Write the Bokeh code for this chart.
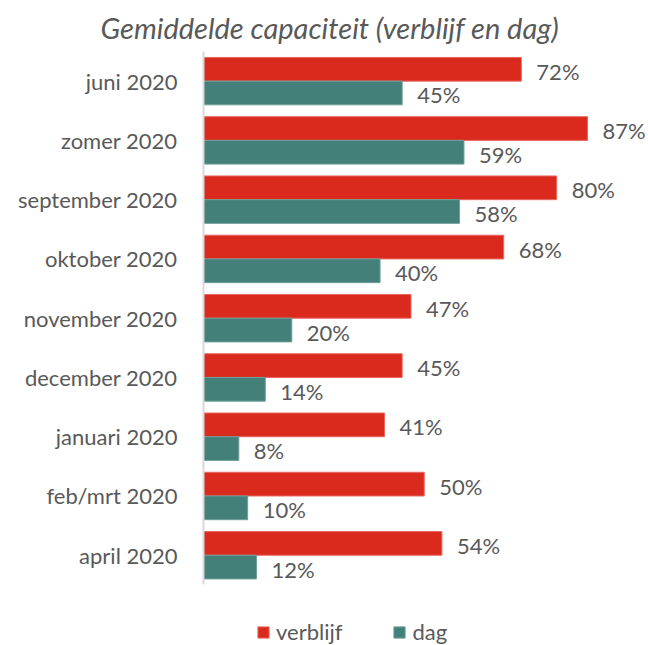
from bokeh.plotting import figure
from bokeh.models import Range1d, Legend, LegendItem, ColumnDataSource, FixedTicker
from bokeh.transform import dodge
from bokeh.core.properties import value
from bokeh.embed import file_html
from bokeh.resources import INLINE

categories = ["juni 2020", "zomer 2020", "september 2020", "oktober 2020",
              "november 2020", "december 2020", "januari 2020", "feb/mrt 2020", "april 2020"]
verblijf = [72, 87, 80, 68, 47, 45, 41, 50, 54]
dag = [45, 59, 58, 40, 20, 14, 8, 10, 12]
series_names = ["verblijf", "dag"]
title_text = "Gemiddelde capaciteit (verblijf en dag)"

RED = "#DA2A1E"
TEAL = "#43807A"
TXT = "#595959"
FONT = "Lato"

n = len(categories)
pos = [n - 1 - i for i in range(n)]  # top-to-bottom order

src = ColumnDataSource(dict(
    pos=pos,
    cat=categories,
    verblijf=verblijf,
    dag=dag,
    vlab=[f"{v}%" for v in verblijf],
    dlab=[f"{v}%" for v in dag],
))

p = figure(width=648, height=645, output_backend="svg", toolbar_location=None,
           y_range=Range1d(-1.523, n - 0.5),
           x_range=Range1d(0, 100.8),
           min_border_left=203, min_border_right=0, min_border_top=51, min_border_bottom=0)

r1 = p.hbar(y=dodge("pos", 0.2), right="verblijf", left=0, height=0.4,
            source=src, fill_color=RED, line_color="#E8685F", line_width=1)
r2 = p.hbar(y=dodge("pos", -0.2), right="dag", left=0, height=0.4,
            source=src, fill_color=TEAL, line_color="#6E9F99", line_width=1)

p.text(x="verblijf", y=dodge("pos", 0.2), text="vlab", source=src,
       x_offset=15, y_offset=2, text_baseline="middle", text_align="left",
       text_font=value(FONT), text_font_size="22px", text_color=TXT)
p.text(x="dag", y=dodge("pos", -0.2), text="dlab", source=src,
       x_offset=15, y_offset=2, text_baseline="middle", text_align="left",
       text_font=value(FONT), text_font_size="22px", text_color=TXT)

p.xaxis.visible = False
p.xgrid.visible = False
p.ygrid.visible = False
p.outline_line_color = None

ax = p.yaxis[0]
ax.ticker = FixedTicker(ticks=pos)
ax.major_label_overrides = {pv: c for pv, c in zip(pos, categories)}
ax.bounds = (-0.5, n - 0.5)
ax.axis_line_color = "#D9D9D9"
ax.axis_line_width = 2
ax.major_tick_line_color = None
ax.minor_tick_line_color = None
ax.major_label_text_font = FONT
ax.major_label_text_font_size = "22px"
ax.major_label_text_color = TXT
ax.major_label_standoff = 20

p.title.text = title_text
p.title.align = "left"
p.title.offset = -103
p.title.standoff = 10
p.title.vertical_align = "top"
p.title.text_font = FONT
p.title.text_font_style = "italic"
p.title.text_font_size = "29px"
p.title.text_color = TXT

legend = Legend(items=[LegendItem(label=series_names[0], renderers=[r1]),
                       LegendItem(label=series_names[1], renderers=[r2])],
                orientation="horizontal", location=(53, 0),
                padding=0, margin=0, spacing=50, label_standoff=6,
                glyph_width=14, glyph_height=14,
                label_text_font=FONT, label_text_font_size="22px", label_text_color=TXT,
                border_line_color=None, background_fill_alpha=0)
p.add_layout(legend, "center")

open("out.html", "w").write(file_html(p, INLINE))
